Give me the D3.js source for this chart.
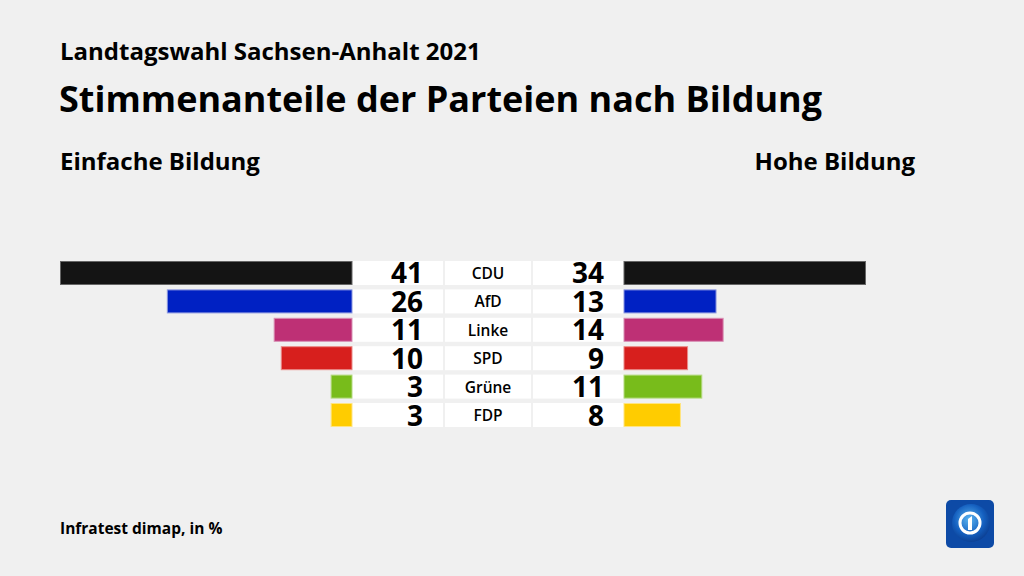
<!DOCTYPE html>
<html><head><meta charset="utf-8">
<script src="https://cdn.jsdelivr.net/npm/d3@7"></script>
<style>body{margin:0;background:#f0f0f0;}svg{display:block;font-family:"Open Sans","Noto Sans",sans-serif;}</style>
</head><body>
<script>
const parties = ["CDU","AfD","Linke","SPD","Grüne","FDP"];
const einfache = [41,26,11,10,3,3];
const hohe = [34,13,14,9,11,8];
const colors = ["#141414","#0021c3","#be3075","#d71f1d","#78bc1b","#ffcc00"];
const strokes = ["#666","#8a96e0","#d890b4","#ea8a88","#b4da80","#ffe480"];

const W=1024,H=576;
const svg=d3.select("body").append("svg").attr("width",W).attr("height",H);
svg.append("rect").attr("width",W).attr("height",H).attr("fill","#f0f0f0");

svg.append("text").attr("x",60).attr("y",60).attr("font-size",24).attr("font-weight",700).attr("fill","#000").text("Landtagswahl Sachsen-Anhalt 2021");
svg.append("text").attr("x",59).attr("y",112).attr("font-size",36).attr("font-weight",700).attr("fill","#000").text("Stimmenanteile der Parteien nach Bildung");
svg.append("text").attr("x",60).attr("y",170).attr("font-size",24).attr("font-weight",700).text("Einfache Bildung");
svg.append("text").attr("x",915).attr("y",170).attr("text-anchor","end").attr("font-size",24).attr("font-weight",700).text("Hohe Bildung");
svg.append("text").attr("x",60).attr("y",534).attr("font-size",15.5).attr("font-weight",700).text("Infratest dimap, in %");

const y=d3.scaleBand().domain(parties).range([261,427]).paddingInner(0.155).paddingOuter(0);
const xL=d3.scaleLinear().domain([0,41]).range([352,60]);
const xR=d3.scaleLinear().domain([0,34]).range([624,866]);

const g=svg.append("g");
parties.forEach((p,i)=>{
  const yy=y(p),h=y.bandwidth(),c=yy+h/2;
  g.append("rect").attr("x",352).attr("y",yy).attr("width",91).attr("height",h).attr("fill","#fff");
  g.append("rect").attr("x",445).attr("y",yy).attr("width",86).attr("height",h).attr("fill","#fff");
  g.append("rect").attr("x",533).attr("y",yy).attr("width",91).attr("height",h).attr("fill","#fff");
  g.append("rect").attr("x",xL(einfache[i])+0.5).attr("y",yy+0.5).attr("width",352-xL(einfache[i])-0.5).attr("height",h-1)
    .attr("fill",colors[i]).attr("stroke",strokes[i]).attr("stroke-width",1);
  g.append("rect").attr("x",624).attr("y",yy+0.5).attr("width",xR(hohe[i])-624-0.5).attr("height",h-1)
    .attr("fill",colors[i]).attr("stroke",strokes[i]).attr("stroke-width",1);
  g.append("text").attr("x",423).attr("y",c+10.5).attr("text-anchor","end").attr("font-size",28).attr("font-weight",700).text(einfache[i]);
  g.append("text").attr("x",604).attr("y",c+10.5).attr("text-anchor","end").attr("font-size",28).attr("font-weight",700).text(hohe[i]);
  g.append("text").attr("x",488).attr("y",c+6).attr("text-anchor","middle").attr("font-size",15.5).attr("font-weight",600).text(p);
});

// logo
const lg=svg.append("g").attr("transform","translate(946,500)");
const grad=svg.append("defs").append("radialGradient").attr("id","lgG").attr("cx","45%").attr("cy","40%").attr("r","65%");
grad.append("stop").attr("offset","0%").attr("stop-color","#5ab4f0");
grad.append("stop").attr("offset","60%").attr("stop-color","#1560c0");
grad.append("stop").attr("offset","100%").attr("stop-color","#0a3a8c");
lg.append("rect").attr("width",48).attr("height",48).attr("rx",5).attr("fill","#0d4aa6");
lg.append("circle").attr("cx",25).attr("cy",23).attr("r",19).attr("fill","url(#lgG)");
lg.append("circle").attr("cx",24).attr("cy",23).attr("r",10).attr("fill","none").attr("stroke","#fff").attr("stroke-width",3);
lg.append("path").attr("d","M22,19 L26,16 L26,30 L22,30 Z").attr("fill","#fff");
</script>
</body></html>
